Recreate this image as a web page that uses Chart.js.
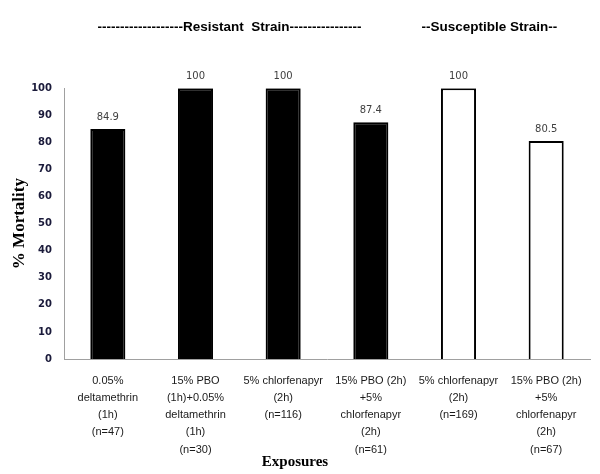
<!DOCTYPE html>
<html lang="en">
<head>
  <meta charset="UTF-8" />
  <title>% Mortality by Exposure</title>
  <script src="https://cdn.jsdelivr.net/npm/chart.js"></script>
  <style>
    html, body { margin: 0; padding: 0; background: #fff; }
    #wrap { width: 600px; height: 474px; }
  </style>
</head>
<body>
  <div id="wrap"><canvas id="mortalityChart"></canvas></div>

  <script>
    // exposures (multi-line tick labels, last line = sample size)
    const exposures = [
      ['0.05%', 'deltamethrin', '(1h)', '(n=47)'],
      ['15% PBO', '(1h)+0.05%', 'deltamethrin', '(1h)', '(n=30)'],
      ['5% chlorfenapyr', '(2h)', '(n=116)'],
      ['15% PBO (2h)', '+5%', 'chlorfenapyr', '(2h)', '(n=61)'],
      ['5% chlorfenapyr', '(2h)', '(n=169)'],
      ['15% PBO (2h)', '+5%', 'chlorfenapyr', '(2h)', '(n=67)']
    ];
    const mortality = [84.9, 100, 100, 87.4, 100, 80.5];
    const strain = ['R', 'R', 'R', 'R', 'S', 'S'];
    const yTicks = [0, 10, 20, 30, 40, 50, 60, 70, 80, 90, 100];

    const headings = ' '.repeat(26) + '-'.repeat(19) + 'Resistant  Strain' + '-'.repeat(16) +
      ' '.repeat(16) + '--Susceptible Strain--';

    // value labels above each bar
    const valueLabels = {
      id: 'valueLabels',
      afterDatasetsDraw(chart) {
        const ctx = chart.ctx;
        const meta = chart.getDatasetMeta(0);
        ctx.save();
        ctx.font = '10px "DejaVu Sans"';
        ctx.fillStyle = '#404040';
        ctx.textAlign = 'center';
        ctx.textBaseline = 'middle';
        meta.data.forEach((bar, i) => {
          ctx.fillText(String(mortality[i]), bar.x, bar.y - 12);
        });
        ctx.restore();
      }
    };

    const ctx = document.getElementById('mortalityChart').getContext('2d');
    new Chart(ctx, {
      type: 'bar',
      data: {
        labels: exposures,
        datasets: [{
          data: mortality,
          backgroundColor: strain.map(s => s === 'R' ? '#000000' : '#ffffff'),
          borderColor: '#000000',
          borderWidth: 2,
          barPercentage: 0.4,
          categoryPercentage: 1
        }]
      },
      options: {
        responsive: true,
        maintainAspectRatio: false,
        animation: false,
        layout: { padding: { left: 0, right: 10, top: 0, bottom: 0 } },
        plugins: {
          legend: { display: false },
          tooltip: { enabled: false },
          title: {
            display: true,
            text: headings,
            align: 'start',
            color: '#000',
            font: { family: '"Liberation Sans"', size: 13.5, weight: 'bold', lineHeight: 1.2 },
            padding: { top: 19, bottom: 53 }
          },
          subtitle: {
            display: true,
            position: 'bottom',
            text: 'Exposures',
            color: '#000',
            font: { family: '"Liberation Serif"', size: 15, weight: 'bold', lineHeight: 1.2 },
            padding: { top: -7, bottom: 3 }
          }
        },
        scales: {
          x: {
            grid: { display: false, drawTicks: false },
            border: { display: true, color: '#a0a0a0', width: 1 },
            ticks: {
              autoSkip: false,
              maxRotation: 0,
              padding: 13,
              color: '#1a1a1a',
              font: { family: '"Liberation Sans"', size: 11, lineHeight: 1.57 }
            },
            afterFit: s => { s.height = 101; }
          },
          y: {
            min: 0,
            max: 100,
            grid: { display: false, drawTicks: false },
            border: { display: true, color: '#a0a0a0', width: 1 },
            afterBuildTicks: s => { s.ticks = yTicks.map(v => ({ value: v })); },
            ticks: {
              padding: 12,
              color: '#1a1a3a',
              font: { family: '"DejaVu Sans"', size: 10, weight: 'bold' }
            },
            title: {
              display: true,
              text: '% Mortality',
              color: '#000',
              font: { family: '"Liberation Serif"', size: 17, weight: 'bold', lineHeight: 1.2 },
              padding: { top: 9, bottom: 0 }
            },
            afterFit: s => { s.width = 64; }
          }
        }
      },
      plugins: [valueLabels]
    });
  </script>
</body>
</html>
